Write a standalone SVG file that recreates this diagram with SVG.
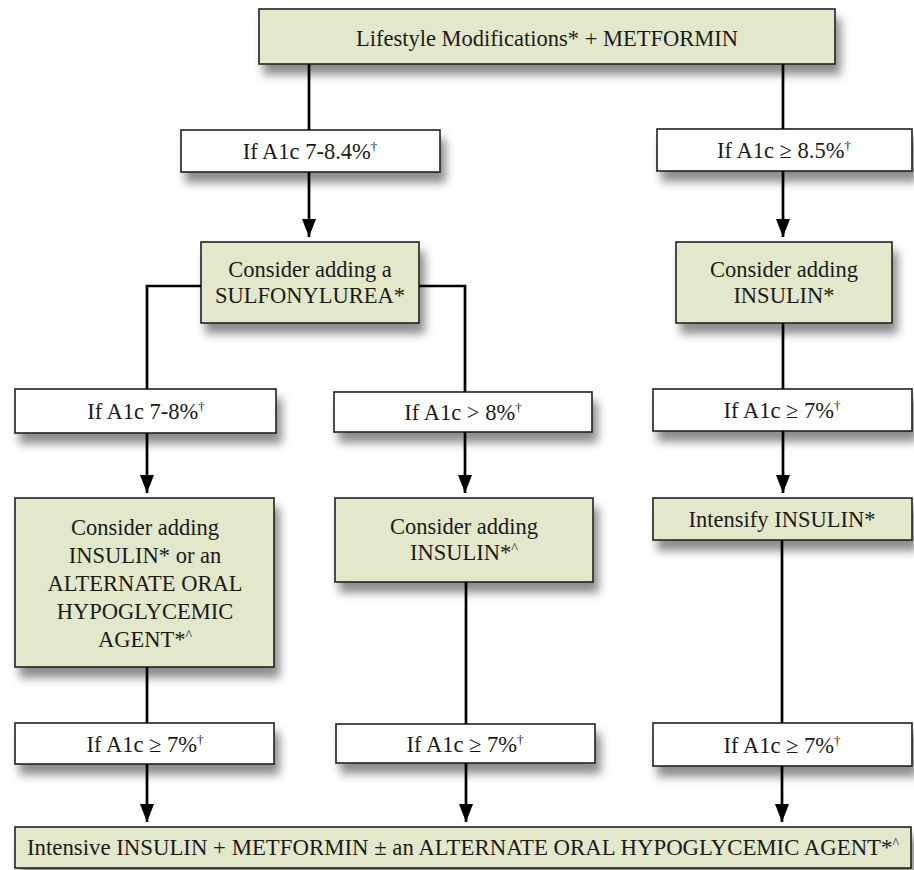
<svg xmlns="http://www.w3.org/2000/svg" width="914" height="870" viewBox="0 0 914 870">
<defs>
<filter id="sh" x="-10%" y="-30%" width="130%" height="180%">
<feDropShadow dx="5" dy="10" stdDeviation="5" flood-color="#000" flood-opacity="0.45"/>
</filter>
<marker id="ah" markerUnits="userSpaceOnUse" markerWidth="18" markerHeight="14" refX="18" refY="7" orient="auto">
<path d="M0,0 L18,7 L0,14 z" fill="#000"/>
</marker>
<style>
.g{fill:#e3e8cb;stroke:#222;stroke-width:1.6}
.w{fill:#fff;stroke:#222;stroke-width:1.6}
.t{font-family:"Liberation Serif","Times New Roman",serif;font-size:22.5px;fill:#1a1a1a;text-anchor:middle}
.c{fill:none;stroke:#000;stroke-width:2.7}
.a{fill:none;stroke:#000;stroke-width:2.7;marker-end:url(#ah)}
.s{font-size:13px;fill:#1a1a1a}
.k{font-size:14px;fill:#1a1a1a}
</style>
</defs>
<rect width="914" height="870" fill="#fff"/>
<g id="start"><rect class="g" x="259" y="9" width="576" height="55" filter="url(#sh)"/><text class="t" x="547" y="46">Lifestyle Modifications* + METFORMIN</text></g>
<g id="c1"><rect class="w" x="181" y="130" width="259" height="42" filter="url(#sh)"/><text class="t" x="310" y="159">If A1c 7-8.4%<tspan class="s" dy="-8">†</tspan></text></g>
<g id="c2"><rect class="w" x="657" y="129" width="255" height="42" filter="url(#sh)"/><text class="t" x="784" y="158">If A1c ≥ 8.5%<tspan class="s" dy="-8">†</tspan></text></g>
<g id="su"><rect class="g" x="201" y="242" width="218" height="81" filter="url(#sh)"/><text class="t" x="310" y="277">Consider adding a</text><text class="t" x="310" y="303">SULFONYLUREA*</text></g>
<g id="in1"><rect class="g" x="676" y="242" width="216" height="81" filter="url(#sh)"/><text class="t" x="784" y="277">Consider adding</text><text class="t" x="784" y="303">INSULIN*</text></g>
<g id="c3"><rect class="w" x="15" y="389" width="261" height="44" filter="url(#sh)"/><text class="t" x="146" y="419">If A1c 7-8%<tspan class="s" dy="-8">†</tspan></text></g>
<g id="c4"><rect class="w" x="334" y="392" width="258" height="40" filter="url(#sh)"/><text class="t" x="463" y="420">If A1c &gt; 8%<tspan class="s" dy="-8">†</tspan></text></g>
<g id="c5"><rect class="w" x="653" y="389" width="259" height="42" filter="url(#sh)"/><text class="t" x="782" y="418">If A1c ≥ 7%<tspan class="s" dy="-8">†</tspan></text></g>
<g id="alt"><rect class="g" x="15" y="498" width="259" height="169" filter="url(#sh)"/>
<text class="t" x="145" y="535">Consider adding</text>
<text class="t" x="145" y="563">INSULIN* or an</text>
<text class="t" x="145" y="591">ALTERNATE ORAL</text>
<text class="t" x="145" y="619">HYPOGLYCEMIC</text>
<text class="t" x="145" y="647">AGENT*<tspan class="k" dy="-7">^</tspan></text></g>
<g id="in2"><rect class="g" x="335" y="498" width="258" height="84" filter="url(#sh)"/><text class="t" x="464" y="534">Consider adding</text><text class="t" x="464" y="560">INSULIN*<tspan class="k" dy="-7">^</tspan></text></g>
<g id="int"><rect class="g" x="653" y="498" width="259" height="42" filter="url(#sh)"/><text class="t" x="782" y="527">Intensify INSULIN*</text></g>
<g id="c6"><rect class="w" x="15" y="723" width="259" height="41" filter="url(#sh)"/><text class="t" x="145" y="752">If A1c ≥ 7%<tspan class="s" dy="-8">†</tspan></text></g>
<g id="c7"><rect class="w" x="336" y="724" width="259" height="39" filter="url(#sh)"/><text class="t" x="465" y="752">If A1c ≥ 7%<tspan class="s" dy="-8">†</tspan></text></g>
<g id="c8"><rect class="w" x="653" y="723" width="259" height="43" filter="url(#sh)"/><text class="t" x="782" y="753">If A1c ≥ 7%<tspan class="s" dy="-8">†</tspan></text></g>
<g id="end"><rect class="g" x="15" y="827" width="896" height="41" filter="url(#sh)"/><text class="t" x="463" y="855" style="font-size:22.8px">Intensive INSULIN + METFORMIN ± an ALTERNATE ORAL HYPOGLYCEMIC AGENT*<tspan class="k" dy="-7">^</tspan></text></g>
<g id="connectors">
<path class="c" d="M309,64 V130"/>
<path class="c" d="M783,64 V129"/>
<path class="a" d="M309,172 V237"/>
<path class="a" d="M783,171 V237"/>
<path class="c" d="M201,286 H147 V389"/>
<path class="c" d="M419,286 H465 V392"/>
<path class="c" d="M783,323 V389"/>
<path class="a" d="M147,433 V493"/>
<path class="a" d="M465,432 V493"/>
<path class="a" d="M783,431 V493"/>
<path class="c" d="M147,667 V723"/>
<path class="c" d="M466,582 V724"/>
<path class="c" d="M782,540 V723"/>
<path class="a" d="M147,764 V822"/>
<path class="a" d="M466,763 V822"/>
<path class="a" d="M782,766 V822"/>
</g>
</svg>
